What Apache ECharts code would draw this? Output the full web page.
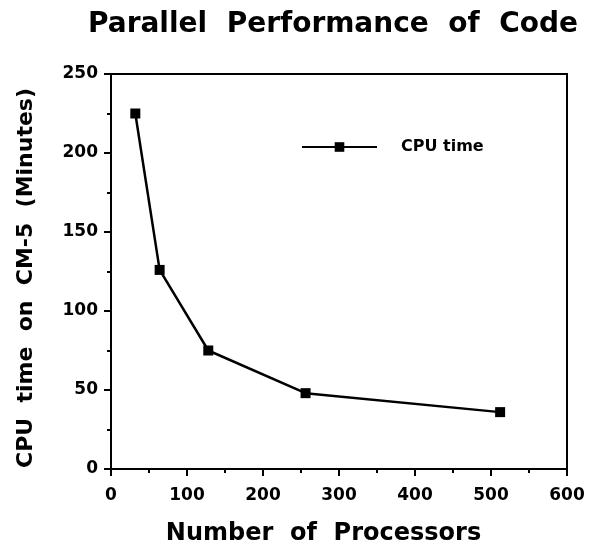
<!DOCTYPE html>
<html><head><meta charset="utf-8">
<script src="https://cdn.jsdelivr.net/npm/echarts@6/dist/echarts.min.js"></script>
<style>html,body{margin:0;padding:0;background:#fff}#c{width:589px;height:546px}</style>
</head><body><div id="c"></div>
<script>
const processors = [32, 64, 128, 256, 512];
const cpuMinutes = [225, 126, 75, 48, 36];
const seriesName = 'CPU time';
const titleText = 'Parallel  Performance  of  Code';
const xName = 'Number  of  Processors';
const yName = 'CPU  time  on  CM-5  (Minutes)';

const chart = echarts.init(document.getElementById('c'), null, {renderer: 'canvas'});
const font = '"DejaVu Sans", Verdana, sans-serif';
chart.setOption({
  animation: false,
  backgroundColor: '#fff',
  title: {
    text: titleText, left: 88, top: 11, padding: 0,
    textStyle: {fontFamily: font, fontWeight: 'bold', fontSize: 28, color: '#000'}
  },
  legend: {
    data: [seriesName], left: 301, top: 139, padding: 0, itemWidth: 75, itemHeight: 12, itemGap: 10,
    textStyle: {fontFamily: font, fontWeight: 'bold', fontSize: 16, color: '#000', padding: [0,0,0,19]}
  },
  grid: {left: 111, right: 22, top: 74, bottom: 77, containLabel: false, outerBoundsMode: 'none',
         show: true, borderColor: '#000', borderWidth: 2, backgroundColor: 'transparent'},
  xAxis: {
    type: 'value', min: 0, max: 600, interval: 100,
    name: xName, nameLocation: 'middle', nameGap: 53,
    nameTextStyle: {fontFamily: font, fontWeight: 'bold', fontSize: 24, color: '#000', padding: [0, 31, 0, 0]},
    axisLine: {show: true, lineStyle: {color: '#000', width: 2}},
    axisTick: {show: true, inside: false, length: 7, lineStyle: {color: '#000', width: 2}},
    minorTick: {show: true, splitNumber: 2, length: 4, lineStyle: {color: '#000', width: 2}},
    axisLabel: {fontFamily: font, fontWeight: 'bold', fontSize: 17, color: '#000', margin: 18},
    splitLine: {show: false}
  },
  yAxis: {
    type: 'value', min: 0, max: 250, interval: 50,
    name: yName, nameLocation: 'middle', nameGap: 74, nameRotate: 90,
    nameTextStyle: {fontFamily: font, fontWeight: 'bold', fontSize: 22, color: '#000', padding: [0, 13, 0, 0]},
    axisLine: {show: true, lineStyle: {color: '#000', width: 2}},
    axisTick: {show: true, inside: false, length: 7, lineStyle: {color: '#000', width: 2}},
    minorTick: {show: true, splitNumber: 2, length: 4, lineStyle: {color: '#000', width: 2}},
    axisLabel: {fontFamily: font, fontWeight: 'bold', fontSize: 17, color: '#000', margin: 13},
    splitLine: {show: false}
  },
  series: [{
    name: seriesName, type: 'line',
    data: processors.map((p, i) => [p, cpuMinutes[i]]),
    symbol: 'rect', symbolSize: 10,
    itemStyle: {color: '#000'},
    lineStyle: {color: '#000', width: 2.5}
  }]
});
</script></body></html>
